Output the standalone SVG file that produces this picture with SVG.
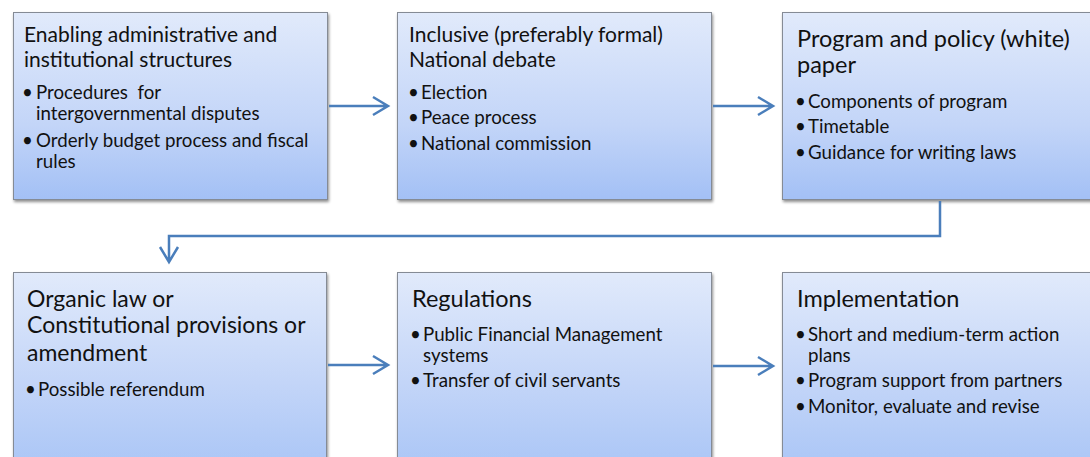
<svg xmlns="http://www.w3.org/2000/svg" width="1090" height="457" viewBox="0 0 1090 457">
<defs>
<linearGradient id="g" x1="0" y1="0" x2="0" y2="1">
<stop offset="0" stop-color="#e1eafb"/>
<stop offset="0.6" stop-color="#c3d5f8"/>
<stop offset="1" stop-color="#a3c0f5"/>
</linearGradient>
<linearGradient id="g2" x1="0" y1="0" x2="0" y2="1">
<stop offset="0" stop-color="#e1eafb"/>
<stop offset="0.55" stop-color="#c3d5f8"/>
<stop offset="1" stop-color="#a9c5f6"/>
</linearGradient>
<filter id="sh" x="-5%" y="-5%" width="115%" height="115%">
<feGaussianBlur in="SourceAlpha" stdDeviation="1.5"/>
<feOffset dx="1" dy="2" result="b"/>
<feComponentTransfer><feFuncA type="linear" slope="0.45"/></feComponentTransfer>
<feMerge><feMergeNode/><feMergeNode in="SourceGraphic"/></feMerge>
</filter>
</defs>
<style>
.box{fill:url(#g);stroke:#858b95;stroke-width:1;filter:url(#sh)}
.box2{fill:url(#g2);stroke:#858b95;stroke-width:1;filter:url(#sh)}
text{font-family:Lato,"Liberation Sans",sans-serif;fill:#111}
.t{font-size:21px}
.tl{font-size:23.5px}
.t4{font-size:23px}
.b{font-size:18.7px}
.c{stroke:#4a7ebb;stroke-width:2.5;fill:none}
</style>
<rect width="1090" height="457" fill="#fff"/>
<g id="node1">
<rect class="box" x="13.5" y="12.5" width="314" height="187"/>
<text class="t" x="24" y="42">Enabling administrative and</text>
<text class="t" x="24" y="67">institutional structures</text>
<text class="b" x="22" y="99">•</text><text class="b" x="36" y="99">Procedures&#160; for</text>
<text class="b" x="36" y="120">intergovernmental disputes</text>
<text class="b" x="22" y="147">•</text><text class="b" x="36" y="147">Orderly budget process and fiscal</text>
<text class="b" x="36" y="168">rules</text>
</g>
<g id="node2">
<rect class="box" x="397.5" y="12.5" width="314" height="187"/>
<text class="t" x="409" y="42">Inclusive (preferably formal)</text>
<text class="t" x="409" y="67">National debate</text>
<text class="b" x="408" y="99">•</text><text class="b" x="421" y="99">Election</text>
<text class="b" x="408" y="124">•</text><text class="b" x="421" y="124">Peace process</text>
<text class="b" x="408" y="150">•</text><text class="b" x="421" y="150">National commission</text>
</g>
<g id="node3">
<rect class="box" x="782.5" y="12.5" width="316" height="187"/>
<text class="tl" x="797" y="47">Program and policy (white)</text>
<text class="tl" x="797" y="73">paper</text>
<text class="b" x="795" y="108">•</text><text class="b" x="808" y="108">Components of program</text>
<text class="b" x="795" y="133">•</text><text class="b" x="808" y="133">Timetable</text>
<text class="b" x="795" y="159">•</text><text class="b" x="808" y="159">Guidance for writing laws</text>
</g>
<g id="node4">
<rect class="box2" x="13.5" y="272.5" width="313" height="200"/>
<text class="t4" x="27" y="307">Organic law or</text>
<text class="t4" x="27" y="333">Constitutional provisions or</text>
<text class="t4" x="27" y="361">amendment</text>
<text class="b" x="25" y="396">•</text><text class="b" x="38" y="396">Possible referendum</text>
</g>
<g id="node5">
<rect class="box2" x="397.5" y="272.5" width="314" height="200"/>
<text class="tl" x="412" y="307">Regulations</text>
<text class="b" x="410" y="341">•</text><text class="b" x="423" y="341">Public Financial Management</text>
<text class="b" x="423" y="362">systems</text>
<text class="b" x="410" y="387">•</text><text class="b" x="423" y="387">Transfer of civil servants</text>
</g>
<g id="node6">
<rect class="box2" x="782.5" y="272.5" width="316" height="200"/>
<text class="tl" x="797" y="307">Implementation</text>
<text class="b" x="795" y="341">•</text><text class="b" x="808" y="341">Short and medium-term action</text>
<text class="b" x="808" y="362">plans</text>
<text class="b" x="795" y="387">•</text><text class="b" x="808" y="387">Program support from partners</text>
<text class="b" x="795" y="413">•</text><text class="b" x="808" y="413">Monitor, evaluate and revise</text>
</g>
<g id="connectors">
<path class="c" d="M329,106 H388 M373,97 L388,106 L373,115"/>
<path class="c" d="M713,106 H773 M758,97 L773,106 L758,115"/>
<path class="c" d="M940,201 V236 H169 V262 M160,247 L169,262 L178,247"/>
<path class="c" d="M328,365 H388 M373,356 L388,365 L373,374"/>
<path class="c" d="M713,366 H773 M758,357 L773,366 L758,375"/>
</g>
</svg>
